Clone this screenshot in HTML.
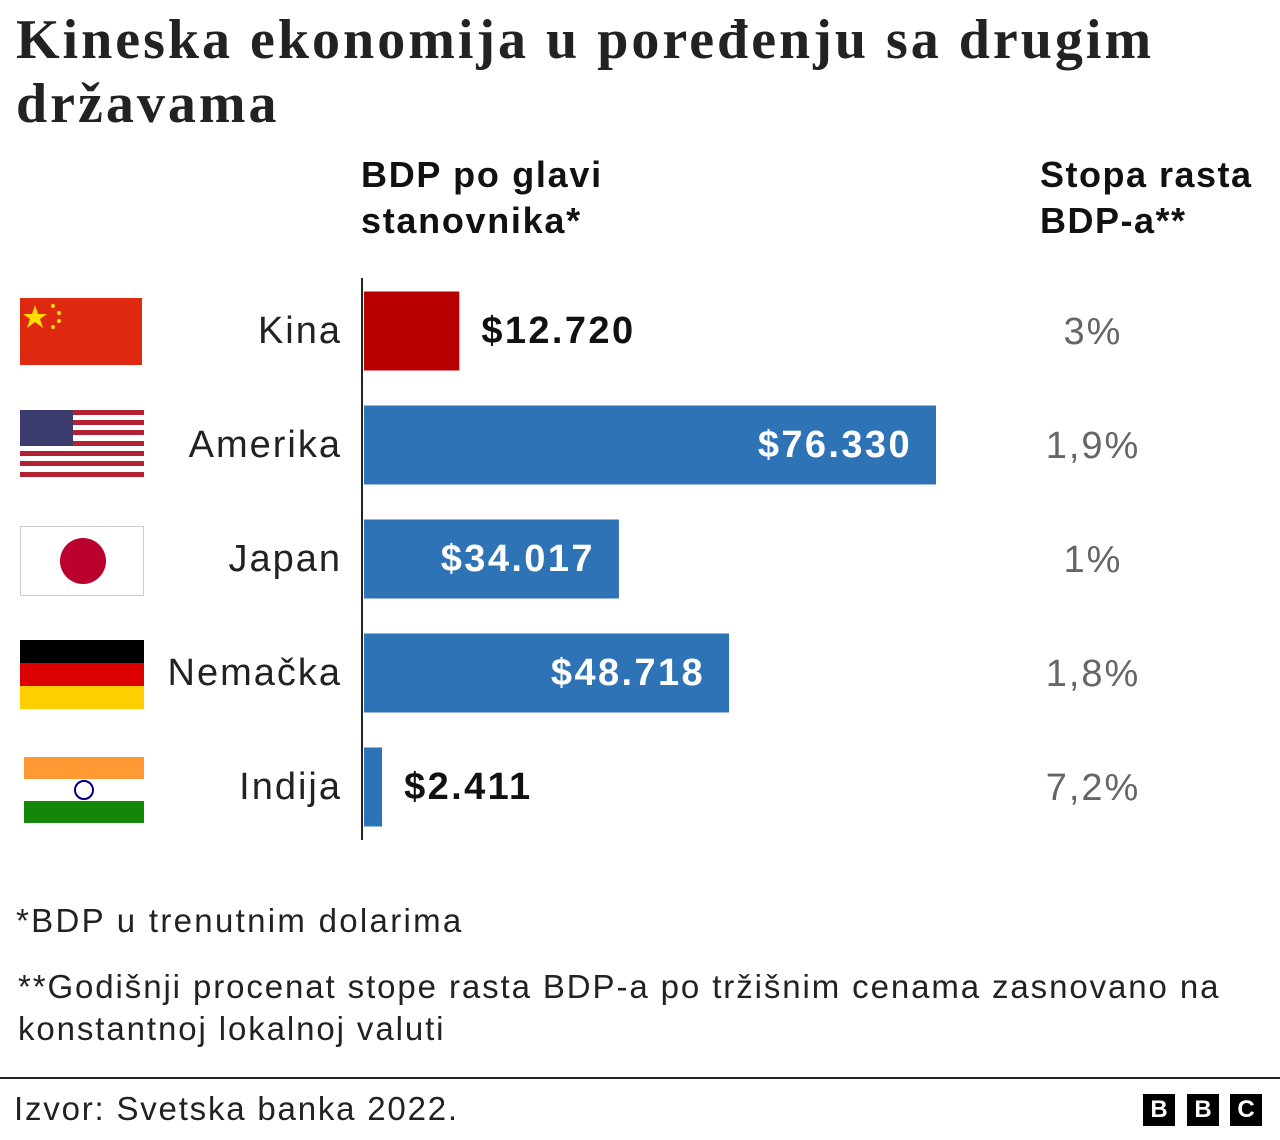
<!DOCTYPE html>
<html><head><meta charset="utf-8">
<style>
body{margin:0;width:1280px;height:1140px;background:#fff;font-family:"Liberation Sans",sans-serif;position:relative;overflow:hidden}
.a{position:absolute;white-space:nowrap}
</style></head>
<body>
<div class="a" style="left:16px;top:8px;font-family:'Liberation Serif',serif;font-weight:bold;font-size:56px;letter-spacing:3px;line-height:64px;color:#222">Kineska ekonomija u poređenju sa drugim<br>državama</div>
<div class="a" style="left:361px;top:152px;font-weight:bold;font-size:36px;letter-spacing:1.7px;line-height:46px;color:#111">BDP po glavi<br>stanovnika*</div>
<div class="a" style="left:1040px;top:152px;font-weight:bold;font-size:36px;letter-spacing:1.5px;line-height:46px;color:#111">Stopa rasta<br>BDP-a**</div>

<svg class="a" style="left:0;top:0" width="1280" height="1140">
 <g>
  <rect x="20" y="298" width="122" height="67" fill="#de2910"/>
  <polygon points="35,305 38,314 47,314 40,319 43,328 35,322 27,328 30,319 23,314 32,314" fill="#ffde00"/>
  <circle cx="53" cy="306" r="2" fill="#ffde00"/><circle cx="59" cy="313" r="2" fill="#ffde00"/>
  <circle cx="59" cy="321" r="2" fill="#ffde00"/><circle cx="53" cy="327" r="2" fill="#ffde00"/>
 </g>
 <g>
  <rect x="20" y="410" width="124" height="67" fill="#fff"/>
  <g fill="#b22234">
   <rect x="20" y="410" width="124" height="5"/><rect x="20" y="420" width="124" height="5"/><rect x="20" y="430" width="124" height="5"/><rect x="20" y="441" width="124" height="5"/><rect x="20" y="451" width="124" height="5"/><rect x="20" y="461" width="124" height="5"/><rect x="20" y="472" width="124" height="5"/>
  </g>
  <rect x="20" y="410" width="53" height="36" fill="#3c3b6e"/>
 </g>
 <g>
  <rect x="20.5" y="526.5" width="123" height="69" fill="#fff" stroke="#ccc"/>
  <circle cx="83" cy="561" r="23" fill="#bc002d"/>
 </g>
 <g>
  <rect x="20" y="640" width="124" height="23" fill="#000"/>
  <rect x="20" y="663" width="124" height="23" fill="#dd0000"/>
  <rect x="20" y="686" width="124" height="23" fill="#ffce00"/>
 </g>
 <g>
  <rect x="24" y="757" width="120" height="22" fill="#ff9933"/>
  <rect x="24" y="779" width="120" height="22" fill="#fff"/>
  <rect x="24" y="801" width="120" height="22" fill="#138808"/>
  <circle cx="84" cy="790" r="9" fill="none" stroke="#000080" stroke-width="2"/>
 </g>
 <line x1="362" y1="278" x2="362" y2="840" stroke="#222" stroke-width="2"/>
 <g id="bars"></g>
</svg>

<div id="labels"></div>

<div class="a" style="left:16px;top:902px;font-size:33px;letter-spacing:2.3px;color:#222">*BDP u trenutnim dolarima</div>
<div class="a" style="left:18px;top:966px;font-size:33px;letter-spacing:1.9px;line-height:42px;color:#222">**Godišnji procenat stope rasta BDP-a po tržišnim cenama zasnovano na<br>konstantnoj lokalnoj valuti</div>
<div class="a" style="left:0;top:1077px;width:1280px;height:2px;background:#222"></div>
<div class="a" style="left:14px;top:1090px;font-size:33px;letter-spacing:1.8px;color:#222">Izvor: Svetska banka 2022.</div>
<div>
 <div class="a" style="left:1143px;top:1094px;width:32px;height:32px;background:#000;color:#fff;font-weight:bold;font-size:24px;text-align:center;line-height:32px">B</div>
 <div class="a" style="left:1187px;top:1094px;width:32px;height:32px;background:#000;color:#fff;font-weight:bold;font-size:24px;text-align:center;line-height:32px">B</div>
 <div class="a" style="left:1230px;top:1094px;width:32px;height:32px;background:#000;color:#fff;font-weight:bold;font-size:24px;text-align:center;line-height:32px">C</div>
</div>

<script>
const countries=["Kina","Amerika","Japan","Nemačka","Indija"];
const gdp=[12720,76330,34017,48718,2411];
const gdpLabels=["$12.720","$76.330","$34.017","$48.718","$2.411"];
const growth=["3%","1,9%","1%","1,8%","7,2%"];
const x0=364,scale=572/76330;
function xs(v){return v*scale;}
function yc(i){return 331+i*114;}
const ns="http://www.w3.org/2000/svg";
const g=document.getElementById('bars');
const L=document.getElementById('labels');
countries.forEach((c,i)=>{
 const w=xs(gdp[i]);
 const r=document.createElementNS(ns,'rect');
 r.setAttribute('x',x0);r.setAttribute('y',yc(i)-39.5);r.setAttribute('width',w);r.setAttribute('height',79);
 r.setAttribute('fill',i===0?'#b80000':'#2e73b6');
 
 
 g.appendChild(r);
 const n=document.createElement('div');n.className='a';
 n.style.cssText='right:'+(1280-342)+'px;top:'+(yc(i)-21)+'px;font-size:38px;letter-spacing:2px;color:#222';
 n.textContent=c;
 
 
 L.appendChild(n);
 const v=document.createElement('div');v.className='a';
 const inside=w>200;
 v.style.cssText='top:'+(yc(i)-21)+'px;font-size:38px;letter-spacing:2.4px;font-weight:bold;'+(inside?'color:#fff;right:'+(1280-(x0+w-24))+'px':'color:#111;left:'+(x0+w+22)+'px');
 v.textContent=gdpLabels[i];
 
 
 L.appendChild(v);
 const gr=document.createElement('div');gr.className='a';
 gr.style.cssText='left:993px;width:200px;text-align:center;top:'+(yc(i)-20)+'px;font-size:38px;letter-spacing:2px;color:#666';
 gr.textContent=growth[i];
 
 
 L.appendChild(gr);
});
</script>
</body></html>
